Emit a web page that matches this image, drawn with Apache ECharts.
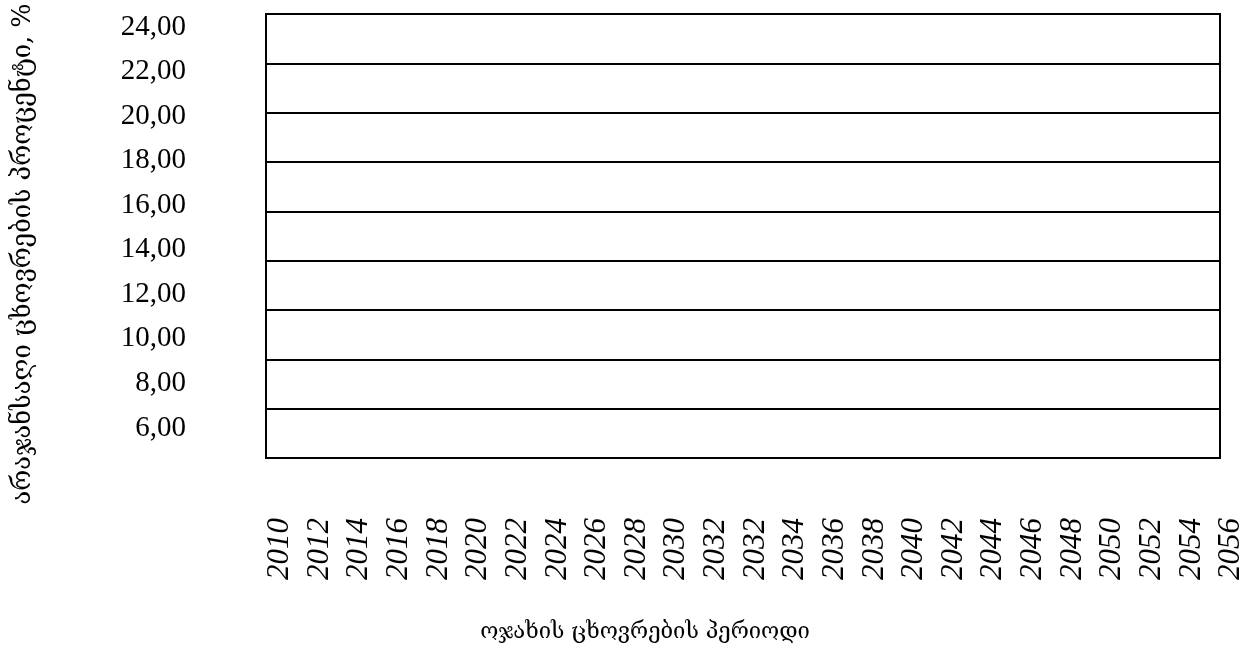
<!DOCTYPE html>
<html>
<head>
<meta charset="utf-8">
<script src="https://cdn.jsdelivr.net/npm/echarts@6/dist/echarts.min.js"></script>
<style>
  html, body { margin: 0; padding: 0; background: #fff; }
  #chart { width: 1250px; height: 655px; }
</style>
</head>
<body>
<div id="chart"></div>
<script>
// Period of family life (years shown along the bottom)
const years = ['2010','2012','2014','2016','2018','2020','2022','2024','2026','2028','2030','2032',
               '2032','2034','2036','2038','2040','2042','2044','2046','2048','2050','2052','2054','2056'];
// Percentage scale
const yMin = 6;
const yMax = 24;
const yStep = 2;

const xTitle = 'ოჯახის ცხოვრების პერიოდი';
const yTitle = 'არაჯანსაღი ცხოვრების პროცენტი, %';

const serif = '"Liberation Serif", "DejaVu Serif", serif';
const geo = '"DejaVu Serif", "DejaVu Sans", serif';

const chart = echarts.init(document.getElementById('chart'), null, { renderer: 'canvas' });

chart.setOption({
  backgroundColor: '#ffffff',
  animation: false,
  grid: [
    // framed plot area with horizontal rules
    { left: 266, right: 30, top: 14, bottom: 197, show: true, borderColor: '#000', borderWidth: 2, backgroundColor: 'transparent' },
    // value labels column
    { left: 266, right: 30, top: 27, bottom: 227 },
    // year labels row
    { left: 280, right: 19, top: 14, bottom: 145 }
  ],
  xAxis: [
    { gridIndex: 0, type: 'value', show: false, min: 0, max: 1 },
    { gridIndex: 1, type: 'value', show: false, min: 0, max: 1 },
    {
      gridIndex: 2, type: 'category', data: years, boundaryGap: false,
      axisLine: { show: false }, axisTick: { show: false }, splitLine: { show: false },
      axisLabel: {
        interval: 0, rotate: 90, margin: 8,
        fontFamily: serif, fontStyle: 'italic', fontSize: 31, color: '#000'
      }
    }
  ],
  yAxis: [
    {
      gridIndex: 0, type: 'value', min: yMin, max: yMax, interval: yStep,
      axisLine: { show: false }, axisTick: { show: false }, axisLabel: { show: false },
      splitLine: { show: true, lineStyle: { color: '#000', width: 2 } }
    },
    {
      gridIndex: 1, type: 'value', min: yMin, max: yMax, interval: yStep,
      axisLine: { show: false }, axisTick: { show: false }, splitLine: { show: false },
      axisLabel: {
        margin: 80, fontFamily: serif, fontSize: 29, color: '#000',
        formatter: v => v.toFixed(2).replace('.', ',')
      }
    },
    { gridIndex: 2, type: 'value', show: false, min: 0, max: 1 }
  ],
  series: [
    { type: 'line', xAxisIndex: 0, yAxisIndex: 0, data: [], silent: true }
  ],
  graphic: [
    {
      type: 'text', x: 645, y: 632,
      style: { text: xTitle, font: '22px ' + geo, fill: '#000', textAlign: 'center', textVerticalAlign: 'middle' }
    },
    {
      type: 'text', x: 23, y: 254, rotation: Math.PI / 2,
      style: { text: yTitle, font: '25.5px ' + geo, fill: '#000', textAlign: 'center', textVerticalAlign: 'middle' }
    }
  ]
});
</script>
</body>
</html>
